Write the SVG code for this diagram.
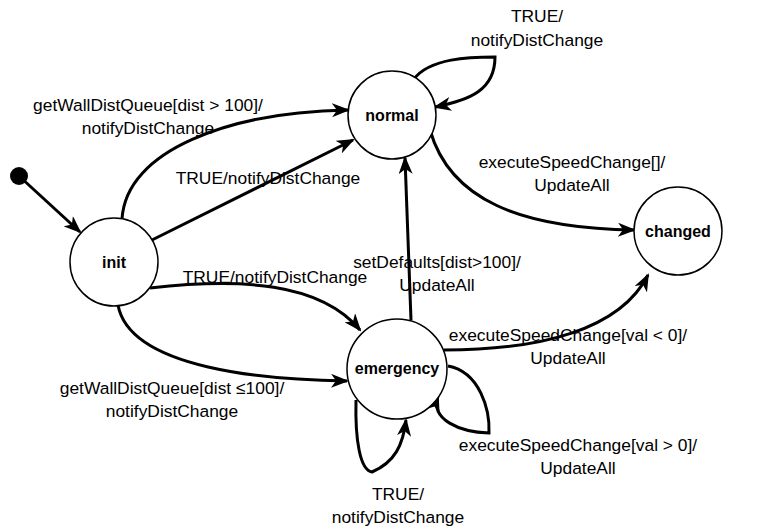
<svg xmlns="http://www.w3.org/2000/svg" width="760" height="527" viewBox="0 0 760 527">
<style>
.st{fill:#fff;stroke:#000;stroke-width:1.5}
.nl{font-family:"Liberation Sans",Arial,sans-serif;font-size:16px;font-weight:bold;text-anchor:middle;fill:#000}
.el{font-family:"Liberation Sans",Arial,sans-serif;font-size:17.4px;text-anchor:middle;fill:#000}
.ed{fill:none;stroke:#000;stroke-width:3;marker-end:url(#ah)}
</style>
<defs>
<marker id="ah" markerWidth="18" markerHeight="14" refX="16" refY="7" orient="auto" markerUnits="userSpaceOnUse">
<path d="M0,0 L18,7 L0,14 L5,7 Z" fill="#000"/>
</marker>
</defs>
<rect width="760" height="527" fill="#fff"/>
<g id="connectors">
<line class="ed" x1="19" y1="176" x2="80" y2="232"/>
<path class="ed" d="M122,219 C126,150 230,112 348,110"/>
<path class="ed" d="M152,240 L353,140"/>
<path class="ed" d="M414,79 C430,58 470,57 495,57 C495,90 470,100 435,107"/>
<path class="ed" d="M430,130 C450,200 520,228 634,230"/>
<path class="ed" d="M150,288 C240,278 320,282 360,330"/>
<path class="ed" d="M118,305 C130,370 270,380 347,381"/>
<path class="ed" d="M411,320 L405,158"/>
<path class="ed" d="M444,350 C540,350 620,330 648,275"/>
<path class="ed" d="M448,366 C480,372 490,410 489,433 C460,432 430,420 438,396"/>
<path class="ed" d="M356,400 C355,440 360,470 372,472 C395,462 403,445 406,420"/>
</g>
<g id="initial"><circle cx="19" cy="176" r="9" fill="#000"/></g>
<g id="init"><circle class="st" cx="114" cy="262" r="44"/><text class="nl" x="114" y="268">init</text></g>
<g id="normal"><circle class="st" cx="392" cy="115" r="44"/><text class="nl" x="392" y="121">normal</text></g>
<g id="changed"><circle class="st" cx="678" cy="231" r="44"/><text class="nl" x="678" y="237">changed</text></g>
<g id="emergency"><circle class="st" cx="397" cy="369" r="50"/><text class="nl" x="397" y="374">emergency</text></g>
<g id="labels">
<text class="el" x="537" y="22">TRUE/</text>
<text class="el" x="537" y="46">notifyDistChange</text>
<text class="el" x="148" y="111">getWallDistQueue[dist &gt; 100]/</text>
<text class="el" x="148" y="134">notifyDistChange</text>
<text class="el" x="268" y="184">TRUE/notifyDistChange</text>
<text class="el" x="572" y="168">executeSpeedChange[]/</text>
<text class="el" x="572" y="191">UpdateAll</text>
<text class="el" x="275" y="283">TRUE/notifyDistChange</text>
<text class="el" x="437" y="268">setDefaults[dist&gt;100]/</text>
<text class="el" x="437" y="291">UpdateAll</text>
<text class="el" x="568" y="341">executeSpeedChange[val &lt; 0]/</text>
<text class="el" x="568" y="364">UpdateAll</text>
<text class="el" x="172" y="394">getWallDistQueue[dist ≤100]/</text>
<text class="el" x="172" y="417">notifyDistChange</text>
<text class="el" x="578" y="451">executeSpeedChange[val &gt; 0]/</text>
<text class="el" x="578" y="474">UpdateAll</text>
<text class="el" x="398" y="500">TRUE/</text>
<text class="el" x="398" y="523">notifyDistChange</text>
</g>
</svg>
